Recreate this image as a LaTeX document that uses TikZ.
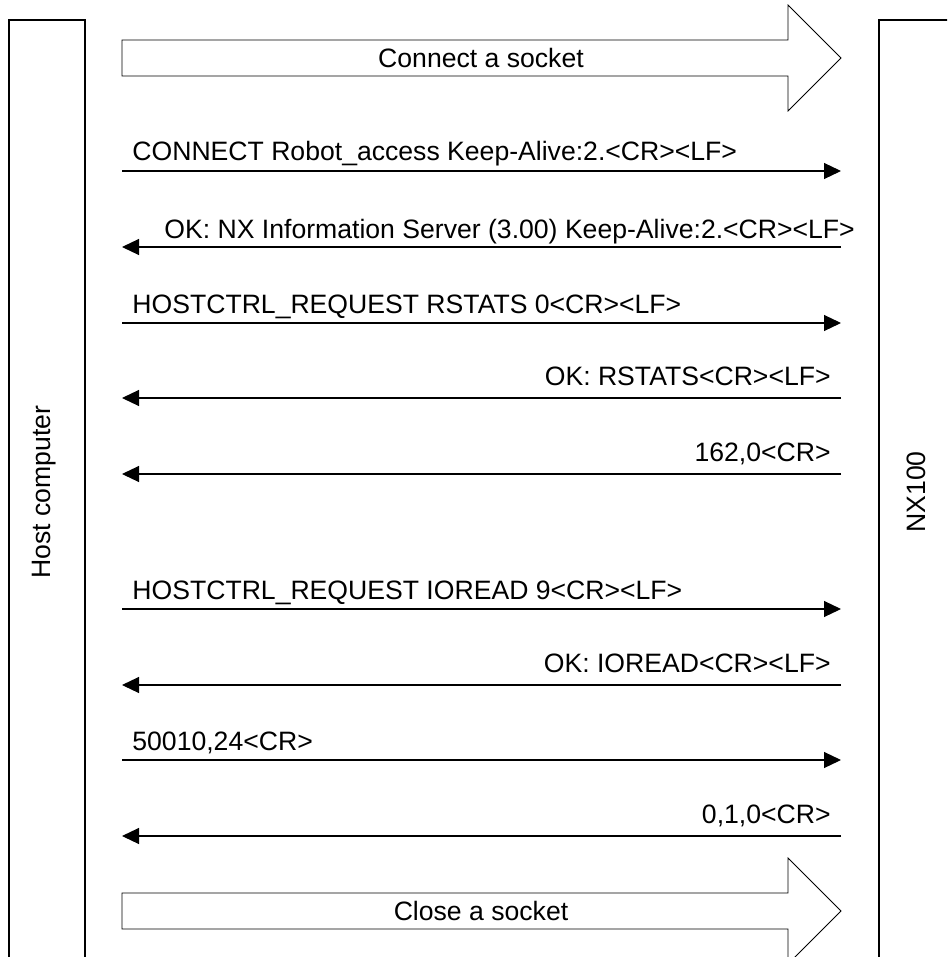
\documentclass[tikz,border=0pt]{standalone}
\usepackage{fontspec}
\setmainfont{Liberation Sans}
\usetikzlibrary{arrows.meta,positioning}

\tikzset{
  lifeline/.style={draw, line width=0.7pt},
  msg/.style={line width=0.55pt, -{Triangle[length=8.5pt,width=8pt]}},
  msglabel/.style={inner sep=0pt, font=\fontsize{13.3}{16}\selectfont},
  bigarrow/.style={draw, line width=0.4pt, line join=miter},
}

\begin{document}
\begin{tikzpicture}[x=0.5pt, y=-0.5pt]
\path[use as bounding box, clip] (0,0) rectangle (947,957);

% participants
\draw[lifeline] (9,20) rectangle (85,1000);
\draw[lifeline] (879,20) rectangle (953,1000);
\node[msglabel, rotate=90] (host) at (44,492) {Host computer};
\node[msglabel, rotate=90] (nx) at (916,492) {NX100};

% socket open / close
\coordinate (open) at (122,58);
\coordinate (close) at (122,911);
\draw[bigarrow] (open) ++(0,-18) -- ++(666,0) -- ++(0,-35) -- ++(53,53) -- ++(-53,53) -- ++(0,-35) -- ++(-666,0) -- cycle;
\draw[bigarrow] (close) ++(0,-18) -- ++(666,0) -- ++(0,-35) -- ++(53,53) -- ++(-53,53) -- ++(0,-35) -- ++(-666,0) -- cycle;
\node[msglabel] (opentxt) at (481,58) {Connect a socket};
\node[msglabel] (closetxt) at (481,911) {Close a socket};

% message ends
\coordinate (h1) at (122,171); \coordinate (n1) at (841,171);
\coordinate (h2) at (122,247); \coordinate (n2) at (841,247);
\coordinate (h3) at (122,323); \coordinate (n3) at (841,323);
\coordinate (h4) at (122,398); \coordinate (n4) at (841,398);
\coordinate (h5) at (122,474); \coordinate (n5) at (841,474);
\coordinate (h6) at (122,609); \coordinate (n6) at (841,609);
\coordinate (h7) at (122,685); \coordinate (n7) at (841,685);
\coordinate (h8) at (122,760); \coordinate (n8) at (841,760);
\coordinate (h9) at (122,836); \coordinate (n9) at (841,836);

\node[msglabel, above right=5pt and 5pt of h1, anchor=base west] (m1) {CONNECT Robot\_access Keep-Alive:2.<CR><LF>};
\node[msglabel, above right=4.5pt and 21pt of h2, anchor=base west] (m2) {OK: NX Information Server (3.00) Keep-Alive:2.<CR><LF>};
\node[msglabel, above right=5pt and 5pt of h3, anchor=base west] (m3) {HOSTCTRL\_REQUEST RSTATS 0<CR><LF>};
\node[msglabel, above left=6.25pt and 5pt of n4, anchor=base east] (m4) {OK: RSTATS<CR><LF>};
\node[msglabel, above left=6.25pt and 5pt of n5, anchor=base east] (m5) {162,0<CR>};
\node[msglabel, above right=5pt and 5pt of h6, anchor=base west] (m6) {HOSTCTRL\_REQUEST IOREAD 9<CR><LF>};
\node[msglabel, above left=6.25pt and 5pt of n7, anchor=base east] (m7) {OK: IOREAD<CR><LF>};
\node[msglabel, above right=5pt and 5pt of h8, anchor=base west] (m8) {50010,24<CR>};
\node[msglabel, above left=6.25pt and 5pt of n9, anchor=base east] (m9) {0,1,0<CR>};

\draw[msg] (h1) -- (n1);
\draw[msg] (n2) -- (h2);
\draw[msg] (h3) -- (n3);
\draw[msg] (n4) -- (h4);
\draw[msg] (n5) -- (h5);
\draw[msg] (h6) -- (n6);
\draw[msg] (n7) -- (h7);
\draw[msg] (h8) -- (n8);
\draw[msg] (n9) -- (h9);
\end{tikzpicture}
\end{document}
